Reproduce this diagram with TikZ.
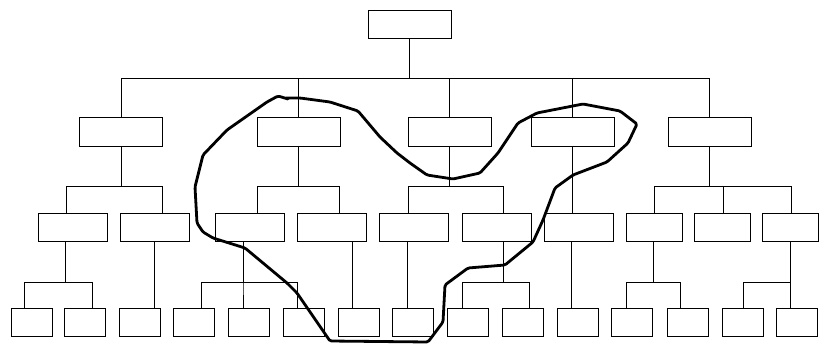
\documentclass[tikz,border=0pt]{standalone}
\usepackage{tikz}
\tikzset{
  orgbox/.style={draw, line width=.7pt, minimum width=83pt, minimum height=29pt, inner sep=0pt},
  orgsub/.style={draw, line width=.7pt, minimum width=69pt, minimum height=28pt, inner sep=0pt},
  orgleaf/.style={draw, line width=.7pt, minimum width=41pt, minimum height=28pt, inner sep=0pt},
  orgline/.style={line width=.6pt},
  orgloop/.style={line width=2.8pt, line join=round, line cap=round, rounded corners=1.5pt}
}
\begin{document}
\begin{tikzpicture}[x=1pt, y=-1pt]
  \useasboundingbox (0,0) rectangle (819,345);
  \node[orgbox, minimum height=28pt] (chief) at (409.5,24) {};
  % units
  \node[orgbox] (ua) at (121,131.5) {};
  \node[orgbox] (ub) at (298.5,131.5) {};
  \node[orgbox] (uc) at (449.5,131.5) {};
  \node[orgbox] (ud) at (572.5,131.5) {};
  \node[orgbox] (ue) at (709.5,131.5) {};
  % sections
  \node[orgsub] (sa) at (72.5,227) {};
  \node[orgsub] (sb) at (154.5,227) {};
  \node[orgsub] (sc) at (250,227) {};
  \node[orgsub] (sd) at (332,227) {};
  \node[orgsub] (se) at (413.5,227) {};
  \node[orgsub] (sf) at (496.5,227) {};
  \node[orgsub] (sg) at (578.5,227) {};
  \node[orgsub, minimum width=56pt] (sh) at (654,227) {};
  \node[orgsub, minimum width=56pt] (si) at (722,227) {};
  \node[orgsub, minimum width=56pt] (sj) at (790.5,227) {};
  % teams
  \foreach \x [count=\i] in {31.5,85,140,194,249,304,358.5,412.5,468,523,577.5,632,687.5,742.5,796.5}
    \node[orgleaf] (f\i) at (\x,322) {};
  % chief to units
  \foreach \u in {ua,ub,uc,ud,ue}
    \draw[orgline] (chief.south) -- ++(0,40) -| (\u.north);
  % units to sections
  \foreach \p/\c/\s in {ua/sa/-6.5, ua/sb/7.5, ub/sc/7, ub/sd/7, uc/se/-5.5, uc/sf/6.5, ue/sh/0, ue/si/1, ue/sj/0.5}
    \draw[orgline] (\p.south) -- ++(0,40) -| ([xshift=\s]\c.north);
  \draw[orgline] (ud.south) -- (ud.south |- sg.north);
  % sections to teams
  \foreach \p/\q/\c/\s in {sa/-7.5/f1/-7.5, sa/-7.5/f2/7, sc/-7/f4/7, sc/-7/f5/-6, sc/-7/f6/-7, sf/6.5/f9/-6, sf/6.5/f10/6, sh/-1/f12/-6, sh/-1/f13/-7.5, sj/-0.5/f14/0.5, sj/-0.5/f15/-6.5}
    \draw[orgline] ([xshift=\q]\p.south) -- ++(0,41) -| ([xshift=\s]\c.north);
  \draw[orgline] (sb.south) -- (sb.south |- f3.north);
  \draw[orgline] ([xshift=-6.5]f7.north) -- ([xshift=-6.5]f7.north |- sd.south);
  \draw[orgline] ([xshift=-6]se.south) -- ([xshift=-6]se.south |- f8.north);
  \draw[orgline] ([xshift=-7.5]sg.south) -- ([xshift=-7.5]sg.south |- f11.north);
  % freehand loop
  \draw[orgloop] (286,98) -- (300,98) -- (330,102) -- (358,111) -- (380,137) -- (397,153)
    -- (410,163) -- (427,175) -- (453,179) -- (480,173) -- (498,153) -- (518,123)
    -- (537,113) -- (583,104) -- (620,111) -- (637,124) -- (628,143) -- (607,162)
    -- (573,175) -- (555,188) -- (543,220) -- (533,242) -- (505,265) -- (468,268)
    -- (445,285) -- (443,322) -- (428,342) -- (330,341) -- (297,293) -- (287,283)
    -- (245,248) -- (213,238) -- (203,232) -- (197,223) -- (195,187) -- (203,155)
    -- (227,130) -- (267,102) -- (278,96) -- (288,99);
\end{tikzpicture}
\end{document}
